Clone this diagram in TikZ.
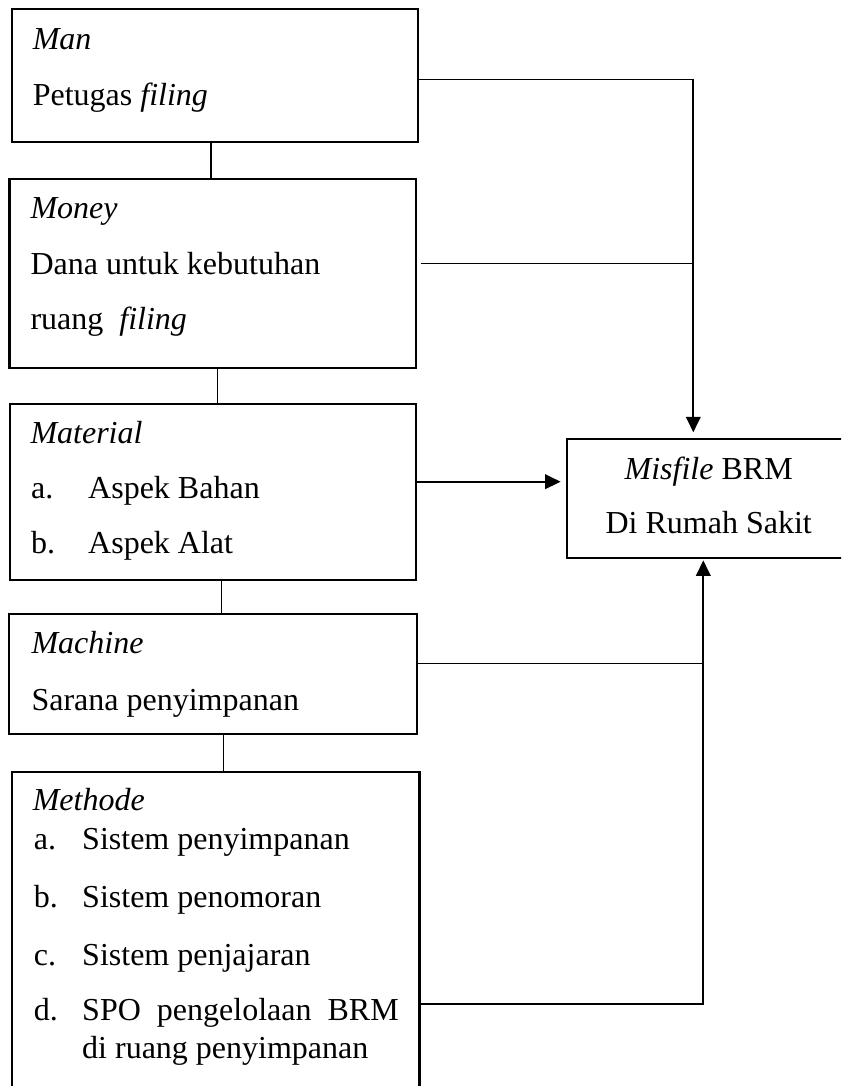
\documentclass[tikz,border=0pt]{standalone}
\usepackage{fontspec}
\setmainfont{Liberation Serif}
\usetikzlibrary{arrows.meta,fit}
\begin{document}
\begin{tikzpicture}[x=0.375pt,y=-0.375pt,
  box/.style={draw, line width=0.8pt, inner sep=0pt},
  txt/.style={inner sep=0pt, anchor=base west, font=\fontsize{12pt}{14pt}\selectfont},
  ctxt/.style={inner sep=0pt, anchor=base, font=\fontsize{12pt}{14pt}\selectfont},
  link/.style={line width=0.6pt, line cap=rect},
  arr/.style={line width=0.85pt, -{Triangle[width=5.4pt,length=5.8pt]}},
  boldarr/.style={line width=0.85pt, -{Triangle[width=5.4pt,length=5.8pt]}}]
\useasboundingbox (0,0) rectangle (841,1086);
\clip (0,0) rectangle (841,1086);
\fill[white] (0,0) rectangle (841,1086);

% boxes
\node[box, fit={(12.3,9.3) (417.7,141.7)}] (man) {};
\node[box, fit={(9.5,179) (415.7,368.3)}] (money) {};
\node[box, fit={(9.7,404) (415.7,580)}] (material) {};
\node[box, fit={(9.3,614.3) (416.7,734.3)}] (machine) {};
\node[box, fit={(12.3,771.7) (419.5,1100)}] (methode) {};
\node[box, fit={(567.3,439) (850,557.7)}] (misfile) {};

% texts
\node[txt] (manA) at (32.3,49.3) {\textit{Man}};
\node[txt] (manB) at (32.3,105) {Petugas \textit{filing}};

\node[txt] (moneyA) at (30,218.3) {\textit{Money}};
\node[txt] (moneyB) at (30,274.3) {Dana untuk kebutuhan};
\node[txt] (moneyC) at (30,329.3) {ruang\ \ \textit{filing}};

\node[txt] (matA) at (30,443.3) {\textit{Material}};
\node[txt] (matB1) at (30.7,498.3) {a.};
\node[txt] (matB2) at (87.7,498.3) {Aspek Bahan};
\node[txt] (matC1) at (30.7,553.3) {b.};
\node[txt] (matC2) at (87.7,553.3) {Aspek Alat};

\node[txt] (macA) at (31,653.3) {\textit{Machine}};
\node[txt] (macB) at (31,710) {Sarana penyimpanan};

\node[txt] (metA) at (32.3,810) {\textit{Methode}};
\node[txt] (metB1) at (33.3,849) {a.};
\node[txt] (metB2) at (81.7,849) {Sistem penyimpanan};
\node[txt] (metC1) at (33.3,907.3) {b.};
\node[txt] (metC2) at (81.7,907.3) {Sistem penomoran};
\node[txt] (metD1) at (33.3,965) {c.};
\node[txt] (metD2) at (81.7,965) {Sistem penjajaran};
\node[txt] (metE1) at (33.3,1020.7) {d.};
\node[txt] (metE2) at (81.7,1020.7) {\makebox[118.7pt][s]{SPO pengelolaan BRM}};
\node[txt] (metF) at (81.7,1058.3) {di ruang penyimpanan};

\node[ctxt] (misA) at (708.7,479) {\textit{Misfile} BRM};
\node[ctxt] (misB) at (708.7,533.3) {Di Rumah Sakit};

% helper coordinates
\coordinate (xa) at (210.7,0);
\coordinate (xb) at (217.3,0);
\coordinate (xc) at (221.3,0);
\coordinate (xd) at (223.3,0);
\coordinate (xv1) at (693.3,0);
\coordinate (xv2) at (703.3,0);
\coordinate (ya) at (0,79.3);
\coordinate (yb) at (0,263.4);
\coordinate (yc) at (0,481.7);
\coordinate (yd) at (0,663.3);
\coordinate (ye) at (0,1004);

% vertical links between boxes
\draw[link] (man.south -| xa) -- (money.north -| xa);
\draw[link] (money.south -| xb) -- (material.north -| xb);
\draw[link] (material.south -| xc) -- (machine.north -| xc);
\draw[link] (machine.south -| xd) -- (methode.north -| xd);

% connectors to Misfile
\draw[link] (man.east |- ya) -- (xv1 |- ya);
\draw[arr, shorten >=2.1pt] (xv1 |- ya) -- (misfile.north -| xv1);
\draw[link, shorten <=1.8pt] (money.east |- yb) -- (xv1 |- yb);
\draw[boldarr, shorten >=2.1pt] (material.east |- yc) -- (misfile.west |- yc);
\draw[link] (machine.east |- yd) -- (xv2 |- yd);
\draw[link] (methode.east |- ye) -- (xv2 |- ye);
\draw[arr, shorten >=0.6pt] (xv2 |- ye) -- (misfile.south -| xv2);
\end{tikzpicture}
\end{document}
